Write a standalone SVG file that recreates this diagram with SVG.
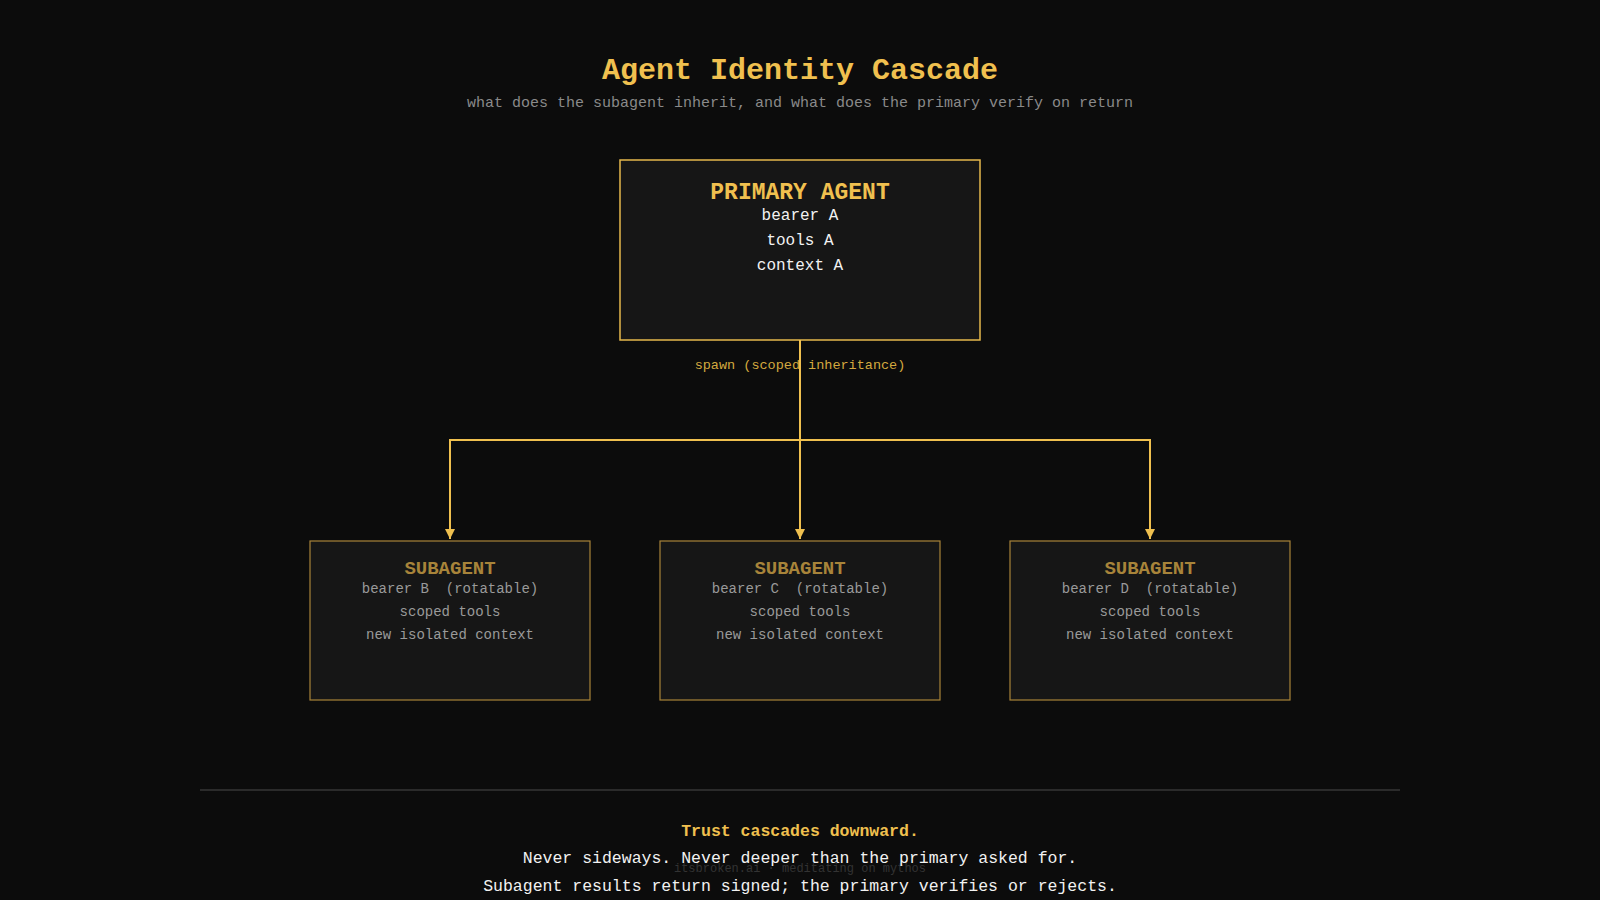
<svg xmlns="http://www.w3.org/2000/svg" width="1600" height="900" viewBox="0 0 1600 900">
<defs>
<marker id="ah" viewBox="0 0 10 10" refX="10" refY="5" markerWidth="10" markerHeight="10" markerUnits="userSpaceOnUse" orient="auto"><path d="M0,0 L10,5 L0,10 z" fill="#f0c04f"/></marker>
<style>
text{font-family:"Liberation Mono","DejaVu Sans Mono",monospace;text-anchor:middle}
.box{fill:#161616;stroke:#e5b84c;stroke-width:1.5}
.sbox{fill:#161616;stroke:#a8843a;stroke-width:1.2}
.sh{fill:#a8843a;font-size:19px;font-weight:bold}
.sl{fill:#9a9a9a;font-size:14px}
.pl{fill:#f2f2f2;font-size:16px}
.ln{fill:none;stroke:#f0c04f;stroke-width:2}
</style>
</defs>
<rect width="1600" height="900" fill="#0c0c0c"/>
<text x="800" y="79" fill="#f0c04f" font-size="30" font-weight="bold">Agent Identity Cascade</text>
<text x="800" y="107" fill="#8a8a8a" font-size="15">what does the subagent inherit, and what does the primary verify on return</text>
<g id="primary">
<rect class="box" x="620" y="160" width="360" height="180"/>
<text x="800" y="199" fill="#f0c04f" font-size="23" font-weight="bold">PRIMARY AGENT</text>
<text class="pl" x="800" y="220">bearer A</text>
<text class="pl" x="800" y="245">tools A</text>
<text class="pl" x="800" y="270">context A</text>
</g>
<g id="connectors">
<path class="ln" d="M800,340 V539"/>
<path class="ln" d="M800,440 H450 V539" marker-end="url(#ah)"/>
<path class="ln" d="M800,440 H1150 V539" marker-end="url(#ah)"/>
<path class="ln" d="M800,440 V539" marker-end="url(#ah)"/>
<text x="800" y="369" fill="#d4a93f" font-size="13.5">spawn (scoped inheritance)</text>
</g>
<g id="subB">
<rect class="sbox" x="310" y="541" width="280" height="159"/>
<text class="sh" x="450" y="574">SUBAGENT</text>
<text class="sl" x="450" y="593" xml:space="preserve">bearer B  (rotatable)</text>
<text class="sl" x="450" y="616">scoped tools</text>
<text class="sl" x="450" y="639">new isolated context</text>
</g>
<g id="subC">
<rect class="sbox" x="660" y="541" width="280" height="159"/>
<text class="sh" x="800" y="574">SUBAGENT</text>
<text class="sl" x="800" y="593" xml:space="preserve">bearer C  (rotatable)</text>
<text class="sl" x="800" y="616">scoped tools</text>
<text class="sl" x="800" y="639">new isolated context</text>
</g>
<g id="subD">
<rect class="sbox" x="1010" y="541" width="280" height="159"/>
<text class="sh" x="1150" y="574">SUBAGENT</text>
<text class="sl" x="1150" y="593" xml:space="preserve">bearer D  (rotatable)</text>
<text class="sl" x="1150" y="616">scoped tools</text>
<text class="sl" x="1150" y="639">new isolated context</text>
</g>
<line x1="200" y1="790" x2="1400" y2="790" stroke="#4a4a4a" stroke-width="1"/>
<text x="800" y="836" fill="#f0c04f" font-size="16.5" font-weight="bold">Trust cascades downward.</text>
<text x="800" y="872" fill="#333" font-size="12">itsbroken.ai  ·  meditating on mythos</text>
<text x="800" y="863" fill="#f2f2f2" font-size="16.5">Never sideways. Never deeper than the primary asked for.</text>
<text x="800" y="891" fill="#f2f2f2" font-size="16.5">Subagent results return signed; the primary verifies or rejects.</text>
</svg>
